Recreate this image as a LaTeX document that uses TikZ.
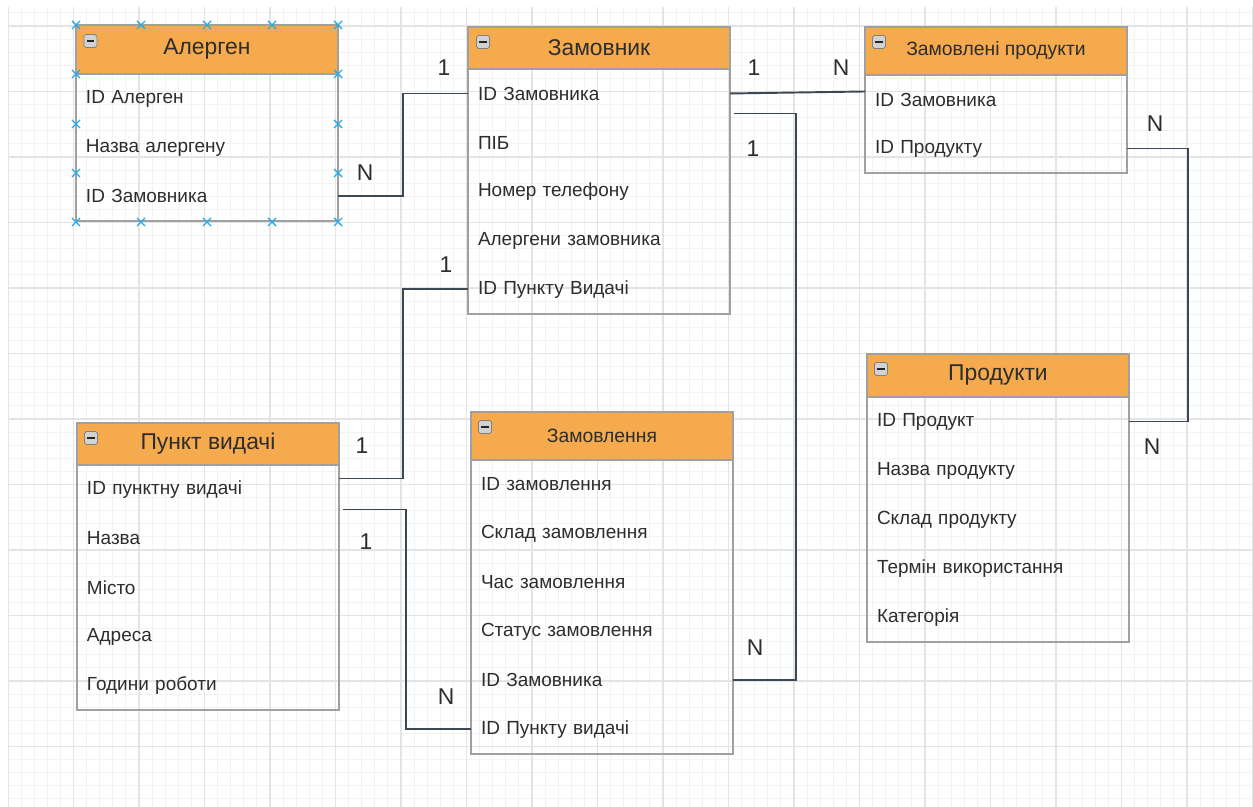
\documentclass[tikz,border=0pt]{standalone}
\usepackage{fontspec}
\setmainfont{Liberation Sans}
\usetikzlibrary{positioning}

\definecolor{headorange}{RGB}{244,170,77}
\definecolor{boxgray}{RGB}{160,160,160}
\definecolor{linkgray}{RGB}{60,72,84}
\definecolor{txtgray}{RGB}{45,45,45}
\definecolor{gridminor}{RGB}{243,243,243}
\definecolor{gridmajor}{RGB}{228,228,228}
\definecolor{handleblue}{RGB}{41,170,230}

\begin{document}
\begin{tikzpicture}[
    x=0.02cm, y=-0.02cm,
    head/.style={draw=boxgray, line width=0.7pt, fill=headorange, minimum width=5.24cm, minimum height=#1, inner sep=0pt, outer sep=0pt, font=\fontsize{13}{15}\selectfont, text=txtgray},
    head/.default=0.84cm,
    smallhead/.style={head=#1, font=\fontsize{11}{13}\selectfont},
    smallhead/.default=0.96cm,
    row/.style={minimum height=0.98cm, text width=4.84cm, align=left, inner xsep=0.2cm, inner ysep=0pt, outer sep=0pt, font=\fontsize{10.8}{12}\selectfont, text=txtgray},
    tbl/.style={draw=boxgray, line width=0.9pt},
    mini/.style={draw=gray, fill=gray!35, minimum size=0.26cm, inner sep=0pt, rounded corners=1pt,
        path picture={\draw[line width=1.2pt, gray!30!black] ([xshift=1.5pt]path picture bounding box.west) -- ([xshift=-1.5pt]path picture bounding box.east);}},
    link/.style={draw=linkgray, line width=1.1pt},
    card/.style={font=\fontsize{13}{15}\selectfont, text=txtgray},
    handle/.style={draw=handleblue, line width=0.8pt}
]
    \useasboundingbox (0,0) rectangle (1253,807);
    \fill[white] (0,0) rectangle (1253,807);

    % Grid
    \begin{scope}
        \clip (8,7) rectangle (1253,807);
        \foreach \k in {0,...,95}
            \draw[gridminor, line width=0.5pt] ({8+13.1*\k},7) -- ({8+13.1*\k},807);
        \foreach \k in {-1,...,60}
            \draw[gridminor, line width=0.5pt] (8,{26+13.1*\k}) -- (1253,{26+13.1*\k});
        \foreach \k in {0,...,19}
            \draw[gridmajor, line width=0.7pt] ({8+65.5*\k},7) -- ({8+65.5*\k},807);
        \foreach \k in {0,...,12}
            \draw[gridmajor, line width=0.7pt] (8,{26+65.5*\k}) -- (1253,{26+65.5*\k});
    \end{scope}

    % Алерген
    \node[head=0.98cm, anchor=north west] (a0) at (76,25) {Алерген};
    \node[row, below=0pt of a0] (a1) {ID Алерген};
    \node[row, below=0pt of a1] (a2) {Назва алергену};
    \node[row, below=0pt of a2] (a3) {ID Замовника};
    \draw[tbl] (a0.north west) rectangle (a3.south east);
    \node[mini] (a0i) at ([xshift=0.29cm, yshift=-0.32cm]a0.north west) {};

    % Замовник
    \node[head, anchor=north west] (z0) at (468,27) {Замовник};
    \node[row, below=0pt of z0] (z1) {ID Замовника};
    \node[row, below=0pt of z1] (z2) {ПІБ};
    \node[row, below=0pt of z2] (z3) {Номер телефону};
    \node[row, below=0pt of z3] (z4) {Алергени замовника};
    \node[row, below=0pt of z4] (z5) {ID Пункту Видачі};
    \draw[tbl] (z0.north west) rectangle (z5.south east);
    \node[mini] (z0i) at ([xshift=0.3cm, yshift=-0.3cm]z0.north west) {};

    % Замовлені продукти
    \node[smallhead, anchor=north west] (zp0) at (865,27) {Замовлені продукти};
    \node[row, below=0pt of zp0] (zp1) {ID Замовника};
    \node[row, below=0pt of zp1] (zp2) {ID Продукту};
    \draw[tbl] (zp0.north west) rectangle (zp2.south east);
    \node[mini] (zp0i) at ([xshift=0.28cm, yshift=-0.3cm]zp0.north west) {};

    % Продукти
    \node[head=0.86cm, anchor=north west] (pr0) at (867,354) {Продукти};
    \node[row, below=0pt of pr0] (pr1) {ID Продукт};
    \node[row, below=0pt of pr1] (pr2) {Назва продукту};
    \node[row, below=0pt of pr2] (pr3) {Склад продукту};
    \node[row, below=0pt of pr3] (pr4) {Термін використання};
    \node[row, below=0pt of pr4] (pr5) {Категорія};
    \draw[tbl] (pr0.north west) rectangle (pr5.south east);
    \node[mini] (pr0i) at ([xshift=0.28cm, yshift=-0.3cm]pr0.north west) {};

    % Пункт видачі
    \node[head, anchor=north west] (p0) at (77,423) {Пункт видачі};
    \node[row, below=0pt of p0] (p1) {ID пунктну видачі};
    \node[row, below=0pt of p1] (p2) {Назва};
    \node[row, below=0pt of p2] (p3) {Місто};
    \node[row, below=0pt of p3] (p4) {Адреса};
    \node[row, below=0pt of p4] (p5) {Години роботи};
    \draw[tbl] (p0.north west) rectangle (p5.south east);
    \node[mini] (p0i) at ([xshift=0.28cm, yshift=-0.3cm]p0.north west) {};

    % Замовлення
    \node[smallhead, anchor=north west] (o0) at (471,412) {Замовлення};
    \node[row, below=0pt of o0] (o1) {ID замовлення};
    \node[row, below=0pt of o1] (o2) {Склад замовлення};
    \node[row, below=0pt of o2] (o3) {Час замовлення};
    \node[row, below=0pt of o3] (o4) {Статус замовлення};
    \node[row, below=0pt of o4] (o5) {ID Замовника};
    \node[row, below=0pt of o5] (o6) {ID Пункту видачі};
    \draw[tbl] (o0.north west) rectangle (o6.south east);
    \node[mini] (o0i) at ([xshift=0.28cm, yshift=-0.3cm]o0.north west) {};

    % Selection handles
    \foreach \hx in {76,141,207,272,338}
        \foreach \hy in {25,222}
            \draw[handle] ({\hx-4},{\hy-4}) -- ({\hx+4},{\hy+4}) ({\hx-4},{\hy+4}) -- ({\hx+4},{\hy-4});
    \foreach \hx in {76,338}
        \foreach \hy in {74,124,173}
            \draw[handle] ({\hx-4},{\hy-4}) -- ({\hx+4},{\hy+4}) ({\hx-4},{\hy+4}) -- ({\hx+4},{\hy-4});

    % Links
    \draw[link] (a3.east) -- ++(65,0) |- (z1.west);
    \draw[link] (z5.west) -- ++(-65,0) |- ([yshift=0.22cm]p1.east);
    \draw[link] (z1.east) -- ([yshift=0.16cm]zp1.west);
    \draw[link] ([xshift=0.08cm, yshift=-0.4cm]z1.east) -- ++(62,0) |- (o5.east);
    \draw[link] ([xshift=0.08cm, yshift=-0.4cm]p1.east) -- ++(63,0) |- (o6.west);
    \draw[link] (zp2.east) -- ++(61,0) |- (pr1.east);

    % Cardinalities
    \node[card] (c1) at (365,173) {N};
    \node[card] (c2) at (444,68) {1};
    \node[card] (c3) at (446,265) {1};
    \node[card] (c4) at (362,446) {1};
    \node[card] (c5) at (754,68) {1};
    \node[card] (c6) at (841,68) {N};
    \node[card] (c7) at (753,149) {1};
    \node[card] (c8) at (755,648) {N};
    \node[card] (c9) at (366,542) {1};
    \node[card] (c10) at (446,697) {N};
    \node[card] (c11) at (1155,124) {N};
    \node[card] (c12) at (1152,447) {N};
\end{tikzpicture}
\end{document}
